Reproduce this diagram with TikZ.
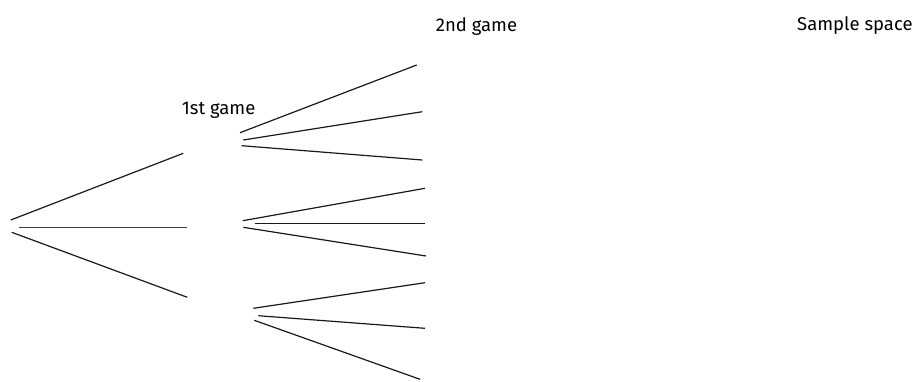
\documentclass[tikz,border=0pt]{standalone}
\usepackage{fontspec}
\setmainfont{Fira Sans}
\usepackage{tikz}
\tikzset{
  branch/.style={line width=1.2pt, black!90},
  gamelabel/.style={anchor=base west, inner sep=0pt, font=\fontsize{18.5}{22}\selectfont},
}

\begin{document}
\begin{tikzpicture}[x=1pt, y=-1pt]
  \useasboundingbox (0,0) rectangle (912,381);
  % column headings
  \node[gamelabel] (first) at (181.7,114.3) {1st game};
  \node[gamelabel] (second) at (435.7,31) {2nd game};
  \node[gamelabel] (space) at (797,30) {Sample space};
  % first game
  \coordinate (r1) at (10.7,220);   \coordinate (a) at (183.3,153.3);
  \coordinate (r2) at (19,227.3);   \coordinate (b) at (187.3,227.3);
  \coordinate (r3) at (11.7,232.3); \coordinate (c) at (187.3,297.3);
  \draw[branch] (r1) -- (a);
  \draw[branch, black!75] (r2) -- (b);
  \draw[branch] (r3) -- (c);
  % second game, after a
  \coordinate (a1) at (240,132.7);   \coordinate (aa) at (416.7,65);
  \coordinate (a2) at (243.3,140);   \coordinate (ab) at (422.3,111.7);
  \coordinate (a3) at (241.7,145.7); \coordinate (ac) at (422.3,160);
  \draw[branch] (a1) -- (aa);
  \draw[branch] (a2) -- (ab);
  \draw[branch] (a3) -- (ac);
  % second game, after b
  \coordinate (b1) at (242.7,220.7); \coordinate (ba) at (425,188.3);
  \coordinate (b2) at (255,223.3);   \coordinate (bb) at (425,223.3);
  \coordinate (b3) at (243.3,227.3); \coordinate (bc) at (426,256);
  \draw[branch] (b1) -- (ba);
  \draw[branch] (b2) -- (bb);
  \draw[branch] (b3) -- (bc);
  % second game, after c
  \coordinate (c1) at (253.3,308.3); \coordinate (ca) at (425,282.7);
  \coordinate (c2) at (258.3,315.7); \coordinate (cb) at (425,328.3);
  \coordinate (c3) at (254.3,320.3); \coordinate (cc) at (420,379.3);
  \draw[branch] (c1) -- (ca);
  \draw[branch] (c2) -- (cb);
  \draw[branch] (c3) -- (cc);
\end{tikzpicture}
\end{document}
